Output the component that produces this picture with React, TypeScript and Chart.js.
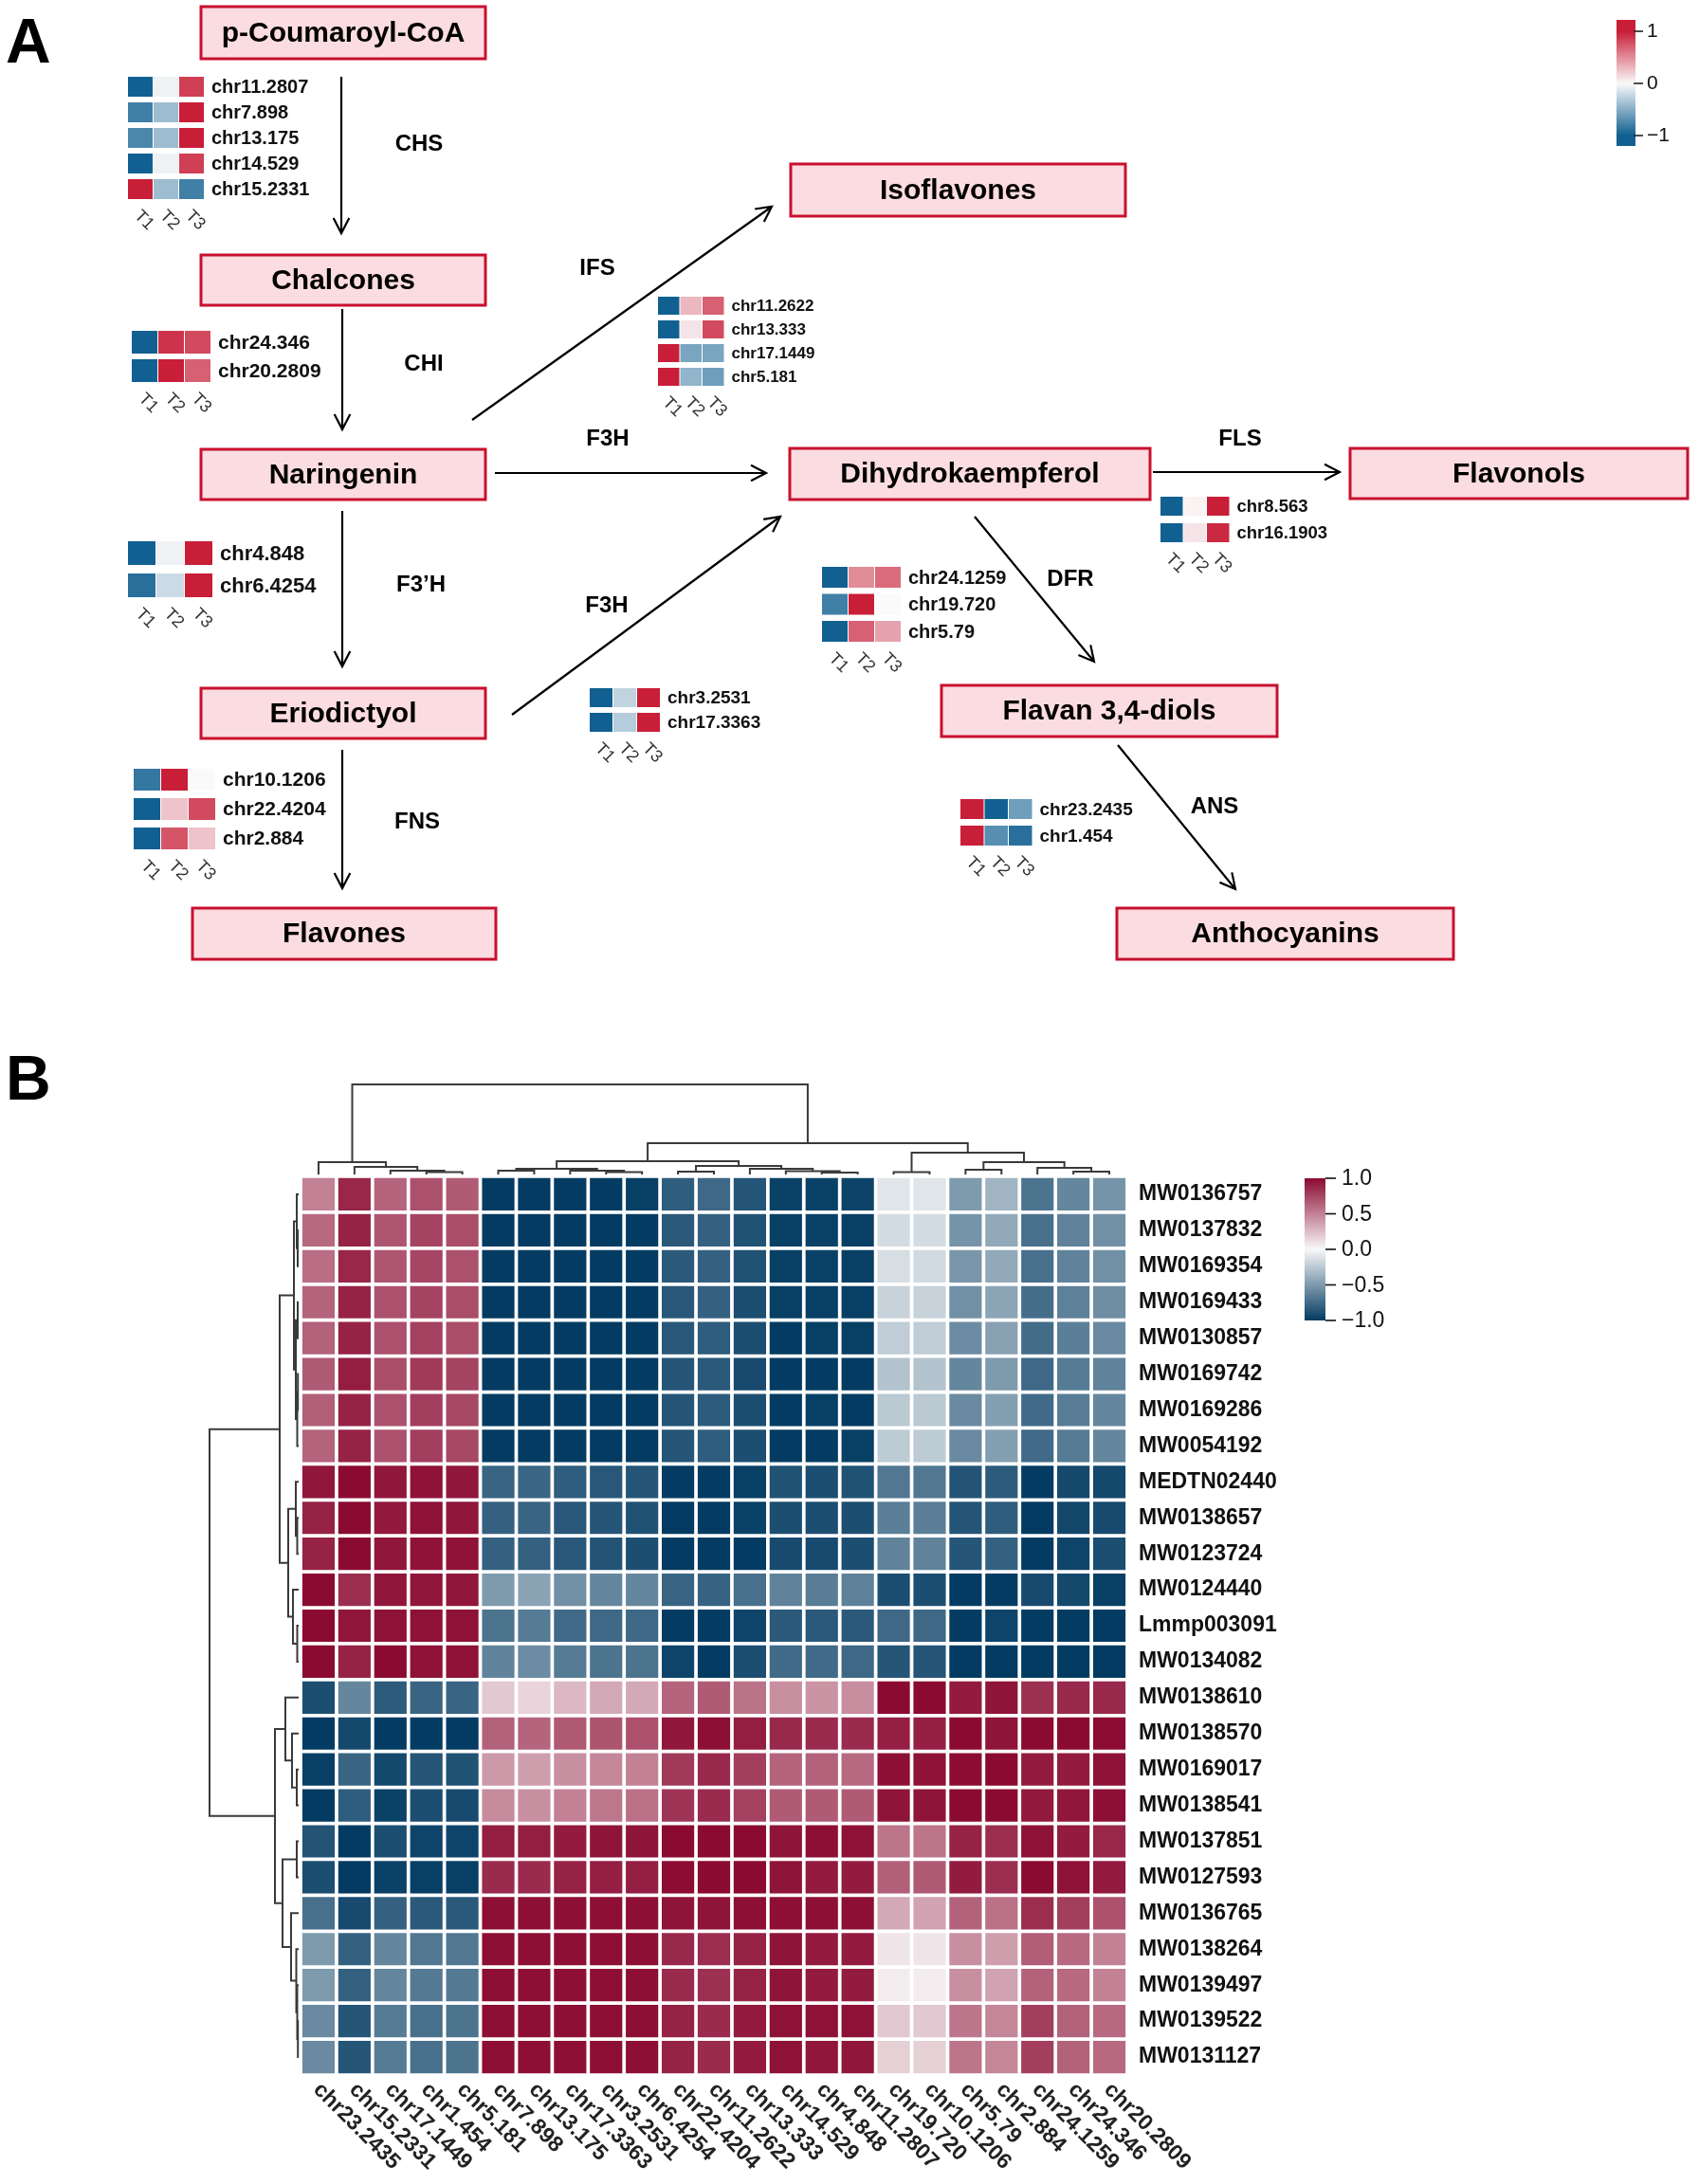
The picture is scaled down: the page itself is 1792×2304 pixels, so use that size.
import React, { useEffect, useRef } from 'react';
import { Chart, registerables } from 'chart.js';

Chart.register(...registerables);

const FONT = '"Liberation Sans", Arial, Helvetica, sans-serif';

// ================= Panel A data =================
const compounds = ['p-Coumaroyl-CoA', 'Chalcones', 'Naringenin', 'Isoflavones', 'Dihydrokaempferol', 'Flavonols', 'Eriodictyol', 'Flavan 3,4-diols', 'Flavones', 'Anthocyanins'];
const enzymes = ['CHS', 'CHI', 'IFS', 'F3H', 'F3’H', 'F3H', 'FLS', 'DFR', 'FNS', 'ANS'];
const timePoints = ['T1', 'T2', 'T3'];

const chsGenes = ['chr11.2807', 'chr7.898', 'chr13.175', 'chr14.529', 'chr15.2331'];
const chsValues = [[-1, -0.05, 0.85], [-0.8, -0.4, 1], [-0.75, -0.4, 1], [-1, -0.05, 0.85], [1, -0.4, -0.8]];
const chiGenes = ['chr24.346', 'chr20.2809'];
const chiValues = [[-1, 0.9, 0.8], [-1, 1, 0.7]];
const f3phGenes = ['chr4.848', 'chr6.4254'];
const f3phValues = [[-1, -0.05, 1], [-0.9, -0.2, 1]];
const fnsGenes = ['chr10.1206', 'chr22.4204', 'chr2.884'];
const fnsValues = [[-0.85, 1, 0], [-1, 0.25, 0.8], [-1, 0.75, 0.25]];
const ifsGenes = ['chr11.2622', 'chr13.333', 'chr17.1449', 'chr5.181'];
const ifsValues = [[-1, 0.3, 0.7], [-1, 0.1, 0.8], [1, -0.55, -0.55], [1, -0.45, -0.6]];
const f3hGenes = ['chr3.2531', 'chr17.3363'];
const f3hValues = [[-1, -0.25, 1], [-1, -0.3, 1]];
const dfrGenes = ['chr24.1259', 'chr19.720', 'chr5.79'];
const dfrValues = [[-1, 0.5, 0.65], [-0.8, 1, 0], [-1, 0.7, 0.4]];
const flsGenes = ['chr8.563', 'chr16.1903'];
const flsValues = [[-1, 0.03, 1], [-1, 0.1, 0.95]];
const ansGenes = ['chr23.2435', 'chr1.454'];
const ansValues = [[1, -1, -0.6], [1, -0.7, -0.9]];
const legendATicks = [1, 0, -1];

// ================= Panel B data =================
const colNames = ['chr23.2435', 'chr15.2331', 'chr17.1449', 'chr1.454', 'chr5.181', 'chr7.898', 'chr13.175', 'chr17.3363', 'chr3.2531', 'chr6.4254', 'chr22.4204', 'chr11.2622', 'chr13.333', 'chr14.529', 'chr4.848', 'chr11.2807', 'chr19.720', 'chr10.1206', 'chr5.79', 'chr2.884', 'chr24.1259', 'chr24.346', 'chr20.2809'];
const rowNames = ['MW0136757', 'MW0137832', 'MW0169354', 'MW0169433', 'MW0130857', 'MW0169742', 'MW0169286', 'MW0054192', 'MEDTN02440', 'MW0138657', 'MW0123724', 'MW0124440', 'Lmmp003091', 'MW0134082', 'MW0138610', 'MW0138570', 'MW0169017', 'MW0138541', 'MW0137851', 'MW0127593', 'MW0136765', 'MW0138264', 'MW0139497', 'MW0139522', 'MW0131127'];
const heatValues = [
  [0.5, 0.88, 0.62, 0.7, 0.66, -1, -1, -1, -1, -0.98, -0.82, -0.76, -0.86, -0.97, -0.97, -0.96, -0.1, -0.1, -0.5, -0.36, -0.7, -0.6, -0.53],
  [0.6, 0.9, 0.68, 0.76, 0.72, -1, -1, -1, -1, -1, -0.84, -0.8, -0.88, -0.98, -0.97, -0.98, -0.15, -0.15, -0.53, -0.42, -0.72, -0.62, -0.55],
  [0.58, 0.88, 0.68, 0.75, 0.7, -1, -1, -1, -1, -1, -0.84, -0.8, -0.88, -0.98, -0.97, -0.98, -0.14, -0.16, -0.52, -0.42, -0.72, -0.62, -0.55],
  [0.62, 0.9, 0.7, 0.76, 0.72, -1, -1, -1, -1, -1, -0.85, -0.8, -0.9, -0.98, -0.98, -0.98, -0.2, -0.2, -0.55, -0.44, -0.73, -0.63, -0.56],
  [0.63, 0.9, 0.7, 0.77, 0.72, -1, -1, -1, -1, -1, -0.85, -0.82, -0.9, -1, -0.98, -0.98, -0.23, -0.23, -0.57, -0.46, -0.74, -0.64, -0.58],
  [0.66, 0.92, 0.72, 0.8, 0.76, -1, -1, -1, -1, -1, -0.86, -0.84, -0.92, -1, -1, -1, -0.28, -0.28, -0.6, -0.5, -0.76, -0.66, -0.62],
  [0.64, 0.9, 0.7, 0.78, 0.74, -1, -1, -1, -1, -1, -0.86, -0.83, -0.9, -1, -0.98, -1, -0.25, -0.25, -0.58, -0.47, -0.75, -0.65, -0.6],
  [0.62, 0.9, 0.7, 0.78, 0.74, -1, -1, -1, -1, -1, -0.86, -0.82, -0.9, -1, -1, -0.98, -0.24, -0.24, -0.58, -0.47, -0.75, -0.66, -0.6],
  [0.95, 1, 0.95, 0.97, 0.95, -0.78, -0.77, -0.82, -0.85, -0.86, -1, -1, -0.98, -0.88, -0.9, -0.88, -0.68, -0.68, -0.87, -0.83, -1, -0.93, -0.93],
  [0.9, 1, 0.94, 0.97, 0.95, -0.8, -0.78, -0.85, -0.86, -0.88, -1, -1, -0.97, -0.9, -0.9, -0.9, -0.64, -0.64, -0.86, -0.82, -1, -0.94, -0.92],
  [0.9, 1, 0.95, 0.97, 0.97, -0.8, -0.8, -0.85, -0.87, -0.9, -1, -1, -1, -0.92, -0.92, -0.9, -0.62, -0.62, -0.86, -0.8, -1, -0.95, -0.9],
  [1, 0.85, 0.95, 0.95, 0.95, -0.5, -0.45, -0.55, -0.6, -0.6, -0.78, -0.79, -0.72, -0.62, -0.65, -0.63, -0.9, -0.9, -1, -1, -0.92, -0.93, -0.98],
  [1, 0.95, 0.97, 0.97, 0.97, -0.7, -0.66, -0.75, -0.76, -0.76, -1, -1, -0.95, -0.84, -0.84, -0.84, -0.76, -0.76, -1, -0.95, -1, -1, -1],
  [1, 0.9, 1, 0.97, 0.97, -0.62, -0.57, -0.66, -0.7, -0.7, -0.95, -1, -0.9, -0.75, -0.75, -0.76, -0.86, -0.86, -1, -1, -1, -1, -1],
  [-0.9, -0.6, -0.83, -0.78, -0.78, 0.2, 0.15, 0.27, 0.33, 0.33, 0.62, 0.66, 0.56, 0.44, 0.42, 0.45, 1, 1, 0.93, 0.96, 0.84, 0.87, 0.87],
  [-1, -0.93, -1, -1, -1, 0.63, 0.62, 0.67, 0.69, 0.7, 0.95, 0.98, 0.92, 0.87, 0.86, 0.86, 0.91, 0.91, 1, 0.96, 1, 1, 0.99],
  [-0.98, -0.78, -0.93, -0.86, -0.88, 0.4, 0.38, 0.44, 0.48, 0.5, 0.8, 0.87, 0.78, 0.62, 0.63, 0.6, 0.98, 0.97, 0.99, 1, 0.93, 0.93, 0.97],
  [-1, -0.82, -0.97, -0.9, -0.92, 0.46, 0.44, 0.5, 0.54, 0.57, 0.82, 0.86, 0.77, 0.66, 0.66, 0.66, 0.96, 0.96, 1, 1, 0.94, 0.95, 0.98],
  [-0.87, -1, -0.9, -0.95, -0.95, 0.92, 0.92, 0.93, 0.96, 0.96, 1, 1, 1, 0.96, 0.98, 0.97, 0.55, 0.55, 0.9, 0.85, 0.97, 0.93, 0.88],
  [-0.9, -1, -0.97, -0.98, -0.98, 0.86, 0.86, 0.9, 0.91, 0.91, 0.99, 1, 1, 0.96, 0.93, 0.93, 0.64, 0.66, 0.93, 0.85, 1, 0.97, 0.93],
  [-0.72, -0.92, -0.8, -0.84, -0.84, 0.98, 0.98, 0.98, 0.98, 0.98, 0.96, 0.96, 0.98, 0.98, 0.98, 0.98, 0.33, 0.36, 0.63, 0.57, 0.85, 0.78, 0.7],
  [-0.5, -0.8, -0.6, -0.68, -0.68, 0.98, 0.98, 0.98, 0.98, 0.98, 0.87, 0.85, 0.9, 0.96, 0.93, 0.93, 0.08, 0.08, 0.44, 0.38, 0.65, 0.6, 0.5],
  [-0.5, -0.8, -0.6, -0.67, -0.67, 0.98, 0.98, 0.98, 0.98, 0.98, 0.86, 0.84, 0.9, 0.96, 0.93, 0.93, 0.05, 0.05, 0.44, 0.36, 0.63, 0.6, 0.5],
  [-0.58, -0.86, -0.66, -0.72, -0.7, 0.98, 0.98, 0.98, 0.98, 0.98, 0.9, 0.86, 0.93, 0.97, 0.97, 0.97, 0.2, 0.2, 0.55, 0.48, 0.78, 0.63, 0.6],
  [-0.58, -0.86, -0.66, -0.72, -0.7, 0.98, 0.98, 0.98, 0.98, 0.98, 0.9, 0.86, 0.93, 0.97, 0.95, 0.95, 0.17, 0.17, 0.55, 0.48, 0.78, 0.63, 0.6],
];
// hclust-style merges: [left, right, height]; negative = leaf (1-based), positive = earlier merge
const colMerge = [
  [-4, -5, 2.5], [-3, 1, 4], [-2, 2, 8], [-1, 3, 13],
  [-6, -7, 4], [-9, -10, 2.5], [-8, 6, 4], [5, 7, 6],
  [-11, -12, 3], [-15, -16, 2], [-14, 10, 3.5], [-13, 11, 6], [9, 12, 9], [8, 13, 14],
  [-17, -18, 2.5], [-19, -20, 5], [-22, -23, 3], [-21, 17, 7], [16, 18, 13], [15, 19, 23],
  [14, 20, 33], [4, 21, 95],
];
const rowMerge = [
  [-2, -3, 1], [-1, 1, 2], [-4, -5, 1], [-6, -7, 0.8], [4, -8, 1.5], [3, 5, 3], [2, 6, 5],
  [-10, -11, 1.5], [-9, 8, 3], [-13, -14, 1.5], [-12, 10, 6], [9, 11, 11], [7, 12, 20],
  [-17, -18, 2], [-16, 14, 7], [-15, 15, 14],
  [-19, -20, 2], [-24, -25, 0.8], [-23, 18, 1.5], [-22, 19, 2.5], [-21, 20, 8], [17, 21, 17], [16, 22, 25],
  [13, 23, 94],
];
const legendBTicks = [1, 0.5, 0, -0.5, -1];

// ================= Layout (positions / sizes / styles) =================
const compoundBoxes = [
  [212, 7, 512, 62], [212, 269, 512, 322], [212, 474, 512, 527], [834, 173, 1187, 228],
  [833, 473, 1213, 527], [1424, 473, 1780, 526], [212, 726, 512, 779], [993, 723, 1347, 777],
  [203, 958, 523, 1012], [1178, 958, 1533, 1012],
];
const enzymeSpots = [
  [442, 152], [447, 384], [630, 283], [641, 463], [444, 617], [640, 639], [1308, 463], [1129, 611], [440, 867], [1281, 851],
];
const arrowPaths = [
  [360, 81, 360, 246], [361, 326, 361, 453], [498, 443, 814, 218], [522, 499, 808, 499],
  [361, 539, 361, 703], [540, 754, 823, 545], [1216, 498, 1413, 498], [1028, 545, 1154, 698],
  [361, 791, 361, 937], [1179, 786, 1303, 938],
];
const miniMaps = [
  { genes: chsGenes, values: chsValues, x: 135, y: 81, cw: 27, ch: 21, pitch: 27, font: 20 },
  { genes: chiGenes, values: chiValues, x: 139, y: 349, cw: 28, ch: 24, pitch: 30, font: 21 },
  { genes: f3phGenes, values: f3phValues, x: 135, y: 571, cw: 30, ch: 25, pitch: 34, font: 22 },
  { genes: fnsGenes, values: fnsValues, x: 141, y: 811, cw: 29, ch: 23, pitch: 31, font: 21 },
  { genes: ifsGenes, values: ifsValues, x: 694, y: 313, cw: 23.5, ch: 19, pitch: 25, font: 17 },
  { genes: f3hGenes, values: f3hValues, x: 622, y: 726, cw: 25, ch: 20, pitch: 26, font: 19 },
  { genes: dfrGenes, values: dfrValues, x: 867, y: 598, cw: 28, ch: 22, pitch: 28.5, font: 20 },
  { genes: flsGenes, values: flsValues, x: 1224, y: 524, cw: 24.5, ch: 20, pitch: 28, font: 18.5 },
  { genes: ansGenes, values: ansValues, x: 1013, y: 843, cw: 25.5, ch: 21, pitch: 28, font: 19 },
];

const A_NEG = [17, 96, 145], A_MID = [250, 250, 250], A_POS = [200, 30, 55];
const B_NEG = [3, 59, 98], B_MID = [248, 248, 248], B_POS = [139, 10, 50];

function ramp(v: number, neg: number[], mid: number[], pos: number[]) {
  const t = Math.max(-1, Math.min(1, v));
  const end = t < 0 ? neg : pos;
  const k = Math.abs(t);
  const c = mid.map((m, i) => Math.round(m + (end[i] - m) * k));
  return `rgb(${c[0]},${c[1]},${c[2]})`;
}
const colorA = (v: number) => ramp(v, A_NEG, A_MID, A_POS);
const colorB = (v: number) => ramp(v, B_NEG, B_MID, B_POS);

function drawArrow(ctx: CanvasRenderingContext2D, x1: number, y1: number, x2: number, y2: number) {
  const ang = Math.atan2(y2 - y1, x2 - x1);
  const L = 18, a = 0.48;
  ctx.beginPath();
  ctx.moveTo(x1, y1);
  ctx.lineTo(x2, y2);
  ctx.moveTo(x2 - L * Math.cos(ang - a), y2 - L * Math.sin(ang - a));
  ctx.lineTo(x2, y2);
  ctx.lineTo(x2 - L * Math.cos(ang + a), y2 - L * Math.sin(ang + a));
  ctx.stroke();
}

const pathwayPlugin = {
  id: 'pathway',
  afterDraw(chart: any) {
    const ctx: CanvasRenderingContext2D = chart.ctx;
    const sx = chart.scales.x, sy = chart.scales.y;
    const X = (v: number) => sx.getPixelForValue(v);
    const Y = (v: number) => sy.getPixelForValue(v);
    ctx.save();
    ctx.fillStyle = '#000';
    ctx.font = `bold 66px ${FONT}`;
    ctx.textAlign = 'left';
    ctx.textBaseline = 'alphabetic';
    ctx.fillText('A', X(6), Y(66));

    // compound boxes
    compounds.forEach((name, i) => {
      const [x1, y1, x2, y2] = compoundBoxes[i];
      ctx.fillStyle = '#fbdce1';
      ctx.fillRect(X(x1), Y(y1), X(x2) - X(x1), Y(y2) - Y(y1));
      ctx.strokeStyle = '#c8102e';
      ctx.lineWidth = 3;
      ctx.strokeRect(X(x1), Y(y1), X(x2) - X(x1), Y(y2) - Y(y1));
      ctx.fillStyle = '#000';
      ctx.font = `bold 30px ${FONT}`;
      ctx.textAlign = 'center';
      ctx.textBaseline = 'middle';
      ctx.fillText(name, X((x1 + x2) / 2), Y((y1 + y2) / 2) + 1);
    });

    // arrows
    ctx.strokeStyle = '#000';
    ctx.lineWidth = 2.2;
    arrowPaths.forEach(([x1, y1, x2, y2]) => drawArrow(ctx, X(x1), Y(y1), X(x2), Y(y2)));

    // enzyme labels
    ctx.fillStyle = '#000';
    ctx.font = `bold 24px ${FONT}`;
    ctx.textAlign = 'center';
    ctx.textBaseline = 'middle';
    enzymes.forEach((e, i) => ctx.fillText(e, X(enzymeSpots[i][0]), Y(enzymeSpots[i][1])));

    // mini heatmaps
    miniMaps.forEach((m) => {
      m.values.forEach((row, r) => {
        const top = m.y + r * m.pitch;
        row.forEach((v, c) => {
          ctx.fillStyle = colorA(v);
          const x0 = m.x + c * m.cw;
          ctx.fillRect(X(x0), Y(top), X(x0 + m.cw - 1) - X(x0), Y(top + m.ch) - Y(top));
        });
        ctx.fillStyle = '#111';
        ctx.font = `bold ${m.font}px ${FONT}`;
        ctx.textAlign = 'left';
        ctx.textBaseline = 'middle';
        ctx.fillText(m.genes[r], X(m.x + 3 * m.cw + 7), Y(top + m.ch / 2) + 1);
      });
      const bottom = m.y + (m.values.length - 1) * m.pitch + m.ch;
      ctx.fillStyle = '#333';
      ctx.font = `18px ${FONT}`;
      timePoints.forEach((t, c) => {
        ctx.save();
        ctx.translate(X(m.x + m.cw * (c + 0.5) - 4), Y(bottom + 15));
        ctx.rotate(Math.PI / 4);
        ctx.textAlign = 'left';
        ctx.textBaseline = 'middle';
        ctx.fillText(t, 0, 0);
        ctx.restore();
      });
    });

    // legend A
    const lx1 = 1705, lx2 = 1725, ly1 = 21, ly2 = 154;
    const vy = (v: number) => 88 - 55 * v;
    const g = ctx.createLinearGradient(0, Y(ly1), 0, Y(ly2));
    g.addColorStop(0, colorA(1));
    g.addColorStop((vy(1) - ly1) / (ly2 - ly1), colorA(1));
    g.addColorStop((vy(0) - ly1) / (ly2 - ly1), colorA(0));
    g.addColorStop((vy(-1) - ly1) / (ly2 - ly1), colorA(-1));
    g.addColorStop(1, colorA(-1));
    ctx.fillStyle = g;
    ctx.fillRect(X(lx1), Y(ly1), X(lx2) - X(lx1), Y(ly2) - Y(ly1));
    ctx.strokeStyle = '#222';
    ctx.lineWidth = 1.6;
    ctx.fillStyle = '#111';
    ctx.font = `21px ${FONT}`;
    ctx.textAlign = 'left';
    ctx.textBaseline = 'middle';
    legendATicks.forEach((v) => {
      ctx.beginPath();
      ctx.moveTo(X(lx2 - 2), Y(vy(v)));
      ctx.lineTo(X(lx2 + 8), Y(vy(v)));
      ctx.stroke();
      ctx.fillText(v < 0 ? '−' + Math.abs(v) : String(v), X(lx2 + 12), Y(vy(v)));
    });
    ctx.restore();
  },
};

function drawDendro(ctx: CanvasRenderingContext2D, merge: number[][], leafPos: (i: number) => number, toPix: (p: number, h: number) => [number, number]) {
  const info: { p: number; h: number }[] = [];
  const get = (id: number) => (id < 0 ? { p: leafPos(-id - 1), h: 0 } : info[id]);
  merge.forEach(([a, b, h], i) => {
    const A = get(a), B = get(b);
    ctx.beginPath();
    let pt = toPix(A.p, A.h); ctx.moveTo(pt[0], pt[1]);
    pt = toPix(A.p, h); ctx.lineTo(pt[0], pt[1]);
    pt = toPix(B.p, h); ctx.lineTo(pt[0], pt[1]);
    pt = toPix(B.p, B.h); ctx.lineTo(pt[0], pt[1]);
    ctx.stroke();
    info[i + 1] = { p: (A.p + B.p) / 2, h };
  });
}

const heatDecorPlugin = {
  id: 'heatDecor',
  afterDraw(chart: any) {
    const ctx: CanvasRenderingContext2D = chart.ctx;
    const area = chart.chartArea;
    const sx = chart.scales.x, sy = chart.scales.y;
    ctx.save();
    ctx.fillStyle = '#000';
    ctx.font = `bold 66px ${FONT}`;
    ctx.textAlign = 'left';
    ctx.textBaseline = 'alphabetic';
    ctx.fillText('B', 6, 80);

    ctx.strokeStyle = '#3a3a3a';
    ctx.lineWidth = 2;
    drawDendro(ctx, colMerge, (i) => sx.getPixelForValue(i), (p, h) => [p, area.top - 2 - h]);
    drawDendro(ctx, rowMerge, (j) => sy.getPixelForValue(j + 0.5), (p, h) => [area.left - 2 - h, p]);

    ctx.fillStyle = '#222';
    ctx.font = `bold 23px ${FONT}`;
    colNames.forEach((name, i) => {
      ctx.save();
      ctx.translate(sx.getPixelForValue(i) - 2, area.bottom + 12);
      ctx.rotate(Math.PI / 4);
      ctx.textAlign = 'left';
      ctx.textBaseline = 'middle';
      ctx.fillText(name, 0, 0);
      ctx.restore();
    });

    // legend B
    const bx1 = 1376, bx2 = 1398, by1 = 163, by2 = 313;
    const vy = (v: number) => (by1 + by2) / 2 - ((by2 - by1) / 2) * v;
    const g = ctx.createLinearGradient(0, by1, 0, by2);
    g.addColorStop(0, colorB(1));
    g.addColorStop(0.5, colorB(0));
    g.addColorStop(1, colorB(-1));
    ctx.fillStyle = g;
    ctx.fillRect(bx1, by1, bx2 - bx1, by2 - by1);
    ctx.strokeStyle = '#111';
    ctx.lineWidth = 1.6;
    ctx.fillStyle = '#111';
    ctx.font = `23px ${FONT}`;
    ctx.textAlign = 'left';
    ctx.textBaseline = 'middle';
    legendBTicks.forEach((v) => {
      ctx.beginPath();
      ctx.moveTo(bx2, vy(v));
      ctx.lineTo(bx2 + 11, vy(v));
      ctx.stroke();
      const s = Math.abs(v).toFixed(1);
      ctx.fillText(v < 0 ? '−' + s : s, bx2 + 17, vy(v) + 1);
    });
    ctx.restore();
  },
};

export default function App() {
  const refA = useRef<HTMLCanvasElement>(null);
  const refB = useRef<HTMLCanvasElement>(null);

  useEffect(() => {
    Chart.defaults.font.family = FONT;
    const chartA = new Chart(refA.current as HTMLCanvasElement, {
      type: 'scatter',
      data: { datasets: [] },
      options: {
        animation: false,
        responsive: false,
        events: [],
        layout: { padding: 0 },
        plugins: { legend: { display: false }, tooltip: { enabled: false } },
        scales: {
          x: { type: 'linear', min: 0, max: 1792, display: false },
          y: { type: 'linear', min: 0, max: 1080, reverse: true, display: false },
        },
      },
      plugins: [pathwayPlugin],
    } as any);

    const datasets = rowNames.map((name, r) => ({
      label: name,
      data: colNames.map(() => 1),
      backgroundColor: heatValues[r].map(colorB),
      borderColor: '#ffffff',
      borderWidth: 2.2,
      borderSkipped: false,
      barPercentage: 1,
      categoryPercentage: 1,
      stack: 'heat',
    }));

    const chartB = new Chart(refB.current as HTMLCanvasElement, {
      type: 'bar',
      data: { labels: colNames, datasets },
      options: {
        animation: false,
        responsive: false,
        events: [],
        layout: { padding: { left: 317, right: 403, top: 161, bottom: 115 } },
        plugins: { legend: { display: false }, tooltip: { enabled: false } },
        scales: {
          x: { type: 'category', display: false, stacked: true, offset: true, grid: { display: false } },
          y: { type: 'linear', display: false, stacked: true, min: 0, max: 25, reverse: true },
          rows: {
            type: 'category',
            labels: rowNames,
            position: 'right',
            offset: true,
            grid: { display: false, drawTicks: false },
            border: { display: false },
            ticks: { autoSkip: false, padding: 12, color: '#111', font: { family: FONT, size: 23, weight: 'bold' } },
            afterFit: (s: any) => { s.width = 200; },
          },
        },
      },
      plugins: [heatDecorPlugin],
    } as any);

    return () => {
      chartA.destroy();
      chartB.destroy();
    };
  }, []);

  return (
    <div style={{ position: 'absolute', left: 0, top: 0, width: 1792, height: 2304, background: '#ffffff' }}>
      <canvas ref={refA} width={1792} height={1080} style={{ position: 'absolute', left: 0, top: 0, width: 1792, height: 1080 }} />
      <canvas ref={refB} width={1792} height={1224} style={{ position: 'absolute', left: 0, top: 1080, width: 1792, height: 1224 }} />
    </div>
  );
}
